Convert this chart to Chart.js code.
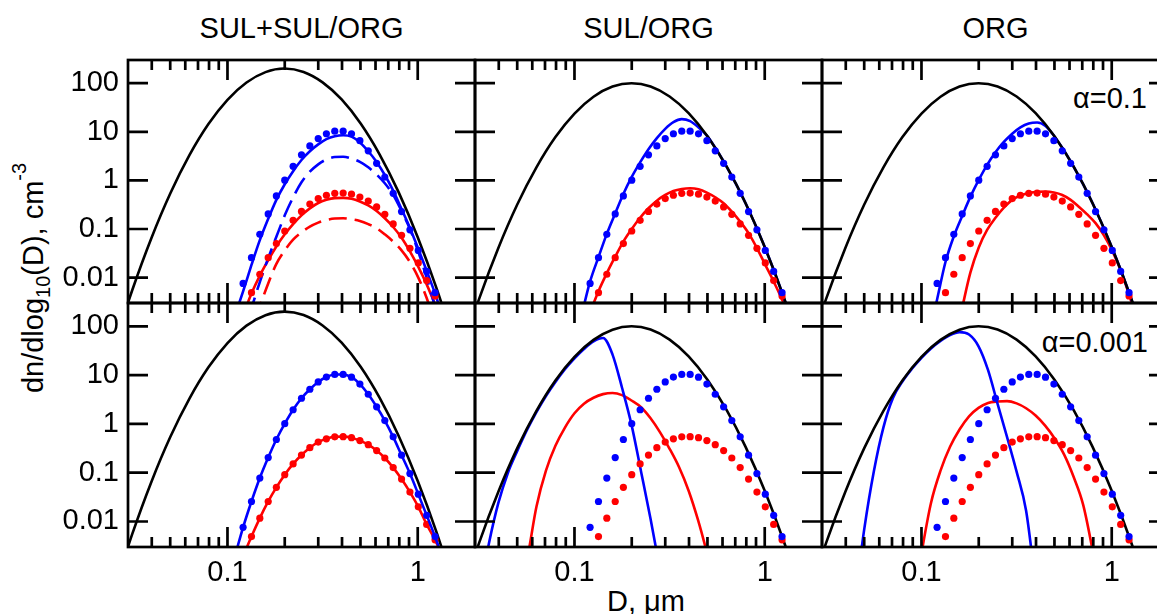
<!DOCTYPE html>
<html><head><meta charset="utf-8">
<script src="https://cdn.jsdelivr.net/npm/chart.js@4.4.1/dist/chart.umd.min.js"></script>
<style>
html,body{margin:0;padding:0;background:#fff;overflow:hidden;width:1157px;height:614px;}
body{position:relative;font-family:'Liberation Sans',Arial,Helvetica,sans-serif;color:#000;}
canvas{position:absolute;}
.t{position:absolute;font-size:29px;line-height:29px;white-space:nowrap;}
</style></head><body>
<div class="t" style="left:301.5px;top:13.8px;transform:translateX(-50%)">SUL+SUL/ORG</div>
<div class="t" style="left:648.5px;top:13.8px;transform:translateX(-50%)">SUL/ORG</div>
<div class="t" style="left:995.5px;top:13.8px;transform:translateX(-50%)">ORG</div>
<div class="t" style="right:10px;top:83.5px">α=0.1</div>
<div class="t" style="right:9px;top:327.5px">α=0.001</div>
<div class="t" style="left:646px;top:587px;transform:translateX(-50%)">D, μm</div>
<div class="t" style="left:35px;top:278px;transform:translate(-50%,-50%) rotate(-90deg)">dn/dlog<span style="font-size:20px;position:relative;top:7px">10</span>(D), cm<span style="font-size:20px;position:relative;top:-17px">-3</span></div>
<script>
// ---------- data ----------
const xTickVals = [0.1, 1];
const xTickLabels = ['0.1', '1'];
const xMinorVals = [0.04,0.05,0.06,0.07,0.08,0.09,0.2,0.3,0.4,0.5,0.6,0.7,0.8,0.9];
const yTickVals = [0.01, 0.1, 1, 10, 100];
const yTickLabels = ['0.01', '0.1', '1', '10', '100'];

// diameters of the bins shown as dots (µm)
const D_dots = [0.1092,0.1208,0.1337,0.1479,0.1637,0.1807,0.2000,0.2213,0.2449,0.2710,0.2999,0.3311,0.3664,0.4055,0.4487,0.4966,0.5495,0.6081,0.6714,0.7430,0.8222,0.9099,1.0069,1.1143,1.2331,1.3646];
const blueDots = [0.0019,0.0076,0.0257,0.0776,0.204,0.479,1.01,1.95,3.35,5.13,7.24,9.12,10.3,10.3,9.06,6.55,4.05,2.24,1.17,0.542,0.228,0.096,0.0363,0.0134,0.0049,0.0016];
const redDots = [0.00063,0.0019,0.0049,0.0117,0.0257,0.050,0.091,0.151,0.230,0.325,0.423,0.495,0.543,0.547,0.521,0.454,0.375,0.284,0.200,0.127,0.074,0.040,0.020,0.0087,0.0042,0.0018];

// total distribution (black)
const D_line = [0.0251,0.0316,0.0398,0.0501,0.0631,0.0794,0.1,0.1259,0.1585,0.1995,0.2512,0.3162,0.3981,0.5012,0.631,0.7943,1.0,1.2589,1.5849];
const blackSUL = [3.5e-4,0.00556,0.0647,0.543,3.30,14.4,45.4,103,169,200,170,104,46.3,14.8,3.40,0.566,0.0678,0.00585,3.6e-4];
const blackORG = [2.5e-4,0.00374,0.0407,0.322,1.85,7.77,23.7,52.6,85.1,100,85.6,53.3,24.2,7.97,1.91,0.334,0.0425,0.00394,2.65e-4];

// SUL+SUL/ORG, alpha=0.1 (on D_dots)
const p1Blue     = [0.0016,0.0052,0.0182,0.0589,0.162,0.398,0.832,1.55,2.63,3.98,5.50,7.08,8.13,8.51,7.94,6.03,3.98,2.40,1.29,0.617,0.257,0.105,0.0389,0.0138,0.0047,0.0014];
const p1BlueDash = [0.00016,0.00063,0.00234,0.0081,0.0251,0.0692,0.191,0.447,0.912,1.51,2.14,2.69,3.02,3.07,2.82,2.40,1.86,1.32,0.871,0.501,0.234,0.1,0.0339,0.01,0.00251,0.00063];
const p1Red      = [0.0005,0.00166,0.00468,0.011,0.0229,0.0437,0.0776,0.126,0.191,0.266,0.343,0.398,0.432,0.437,0.417,0.367,0.305,0.234,0.166,0.110,0.0661,0.0347,0.0166,0.00724,0.00282,0.00112];
const p1RedDash  = [0.00004,0.000178,0.000708,0.00251,0.00759,0.0191,0.0363,0.0603,0.0851,0.112,0.135,0.153,0.164,0.166,0.158,0.146,0.126,0.104,0.0776,0.055,0.0363,0.0209,0.01,0.0038,0.00112,0.000316];

// SUL/ORG and ORG, alpha=0.1 (on D_dots)
const p2TopBlue = [0.00174,0.00832,0.0263,0.0794,0.209,0.525,1.175,2.34,4.37,7.41,11.5,15.8,18.2,16.6,12.3,8.32,4.68,2.45,1.23,0.575,0.251,0.102,0.0398,0.0145,0.0049,0.00158];
const p2TopRed  = [0.00063,0.0019,0.00525,0.0123,0.0269,0.055,0.1,0.17,0.267,0.383,0.501,0.605,0.665,0.687,0.656,0.562,0.45,0.339,0.228,0.142,0.082,0.0404,0.0183,0.00832,0.00355,0.00141];
const p3TopBlue = [0.00063,0.00355,0.0209,0.0708,0.186,0.457,1.02,2.09,3.80,6.17,9.12,12.3,14.8,15.5,13.2,8.32,4.68,2.45,1.23,0.575,0.251,0.102,0.0398,0.0145,0.0049,0.00158];
const p3TopRed  = [null,null,6.3e-5,0.0004,0.0024,0.0126,0.0417,0.0955,0.17,0.275,0.398,0.49,0.55,0.582,0.586,0.562,0.501,0.398,0.288,0.2,0.132,0.0741,0.0355,0.0141,0.00447,0.00126];

// SUL/ORG and ORG, alpha=0.001
const D_fine = [0.0282,0.0316,0.0355,0.0398,0.0447,0.0501,0.0562,0.0631,0.0708,0.0794,0.0891,0.1,0.1122,0.1259,0.1413,0.1585,0.1778,0.1995,0.2239,0.2512,0.2818,0.3162,0.3548,0.3981,0.4467,0.5012,0.5623,0.631,0.7079,0.7943,0.8913];
const p2BotBlue = [null,0.00032,0.00355,0.024,0.1,0.282,0.741,1.74,3.72,7.24,13.2,22.1,34.3,49.0,57.5,26.3,5.5,0.955,0.105,0.0112,0.001,null,null,null,null,null,null,null,null,null,null];
const p2BotRed  = [null,null,null,null,null,0.00032,0.00158,0.02,0.11,0.355,0.84,1.65,2.59,3.43,4.07,4.29,3.89,3.01,2.19,1.30,0.67,0.309,0.129,0.0427,0.0105,0.002,0.00032,null,null,null,null];
const p3BotBlue = [null,null,null,null,0.00025,0.00724,0.107,0.851,3.39,7.41,13.5,22.6,35.1,50.1,66.1,75.9,67.6,38.9,12.6,2.57,0.537,0.105,0.0166,0.0005,null,null,null,null,null,null,null];
const p3BotRed  = [null,null,null,null,null,null,null,null,null,null,0.00016,0.00224,0.024,0.11,0.339,0.767,1.43,2.13,2.69,2.88,2.92,2.63,2.09,1.48,0.918,0.501,0.234,0.0813,0.0219,0.00251,0.0002];

// ---------- drawing ----------
const BLUE = '#0000ff', RED = '#ff0000', BLACK = '#000000';
const FONT = "'Liberation Sans', Arial, Helvetica, sans-serif";
const mk = (D, v) => D.map((d, i) => ({x: d, y: v[i]}));

const panels = [
  {col:0,row:0,black:blackSUL,dotsLine:false,lines:[[D_dots,p1Blue,BLUE,false],[D_dots,p1BlueDash,BLUE,true],[D_dots,p1Red,RED,false],[D_dots,p1RedDash,RED,true]]},
  {col:1,row:0,black:blackORG,dotsLine:false,lines:[[D_dots,p2TopBlue,BLUE,false],[D_dots,p2TopRed,RED,false]]},
  {col:2,row:0,black:blackORG,dotsLine:false,lines:[[D_dots,p3TopBlue,BLUE,false],[D_dots,p3TopRed,RED,false]]},
  {col:0,row:1,black:blackSUL,dotsLine:true,lines:[]},
  {col:1,row:1,black:blackORG,dotsLine:false,lines:[[D_fine,p2BotBlue,BLUE,false],[D_fine,p2BotRed,RED,false]]},
  {col:2,row:1,black:blackORG,dotsLine:false,lines:[[D_fine,p3BotBlue,BLUE,false],[D_fine,p3BotRed,RED,false]]}
];

const frameTicks = {
  id: 'frameTicks',
  afterDraw(chart) {
    const {ctx, chartArea: a} = chart;
    const x = chart.scales.x, y = chart.scales.y;
    ctx.save();
    ctx.strokeStyle = BLACK;
    ctx.lineWidth = 2.7;
    ctx.lineCap = 'butt';
    ctx.beginPath();
    xTickVals.forEach(v => { const p = x.getPixelForValue(v);
      ctx.moveTo(p, a.top); ctx.lineTo(p, a.top + 20); ctx.moveTo(p, a.bottom); ctx.lineTo(p, a.bottom - 20); });
    xMinorVals.forEach(v => { const p = x.getPixelForValue(v);
      ctx.moveTo(p, a.top); ctx.lineTo(p, a.top + 10); ctx.moveTo(p, a.bottom); ctx.lineTo(p, a.bottom - 10); });
    yTickVals.forEach(v => { const p = y.getPixelForValue(v);
      ctx.moveTo(a.left, p); ctx.lineTo(a.left + 20, p); ctx.moveTo(a.right, p); ctx.lineTo(a.right - 20, p); });
    ctx.stroke();
    ctx.strokeRect(a.left, a.top, a.right - a.left, a.bottom - a.top);
    ctx.restore();
  }
};

const COL_L = [128, 475, 822], PW = 347;
const ROW_T = [60, 303], ROW_H = [243, 244];
const PAD = 6, YW = 128, XH = 60;

panels.forEach(p => {
  const showY = p.col === 0, showX = p.row === 1;
  const padL = showY ? 0 : PAD;
  const yW = showY ? YW : 0;
  const xH = showX ? XH : 0;
  const padB = showX ? 0 : PAD;
  const w = yW + padL + PW + PAD;
  const h = PAD + ROW_H[p.row] + xH + padB;
  const cv = document.createElement('canvas');
  cv.width = w; cv.height = h;
  cv.style.left = (COL_L[p.col] - yW - padL) + 'px';
  cv.style.top = (ROW_T[p.row] - PAD) + 'px';
  cv.style.width = w + 'px'; cv.style.height = h + 'px';
  document.body.appendChild(cv);

  const ds = [];
  ds.push({data: mk(D_dots, blueDots), showLine: p.dotsLine, borderColor: BLUE, borderWidth: 2.6,
    pointRadius: 3.6, pointBackgroundColor: BLUE, pointBorderWidth: 0, cubicInterpolationMode: 'monotone', order: 0, clip: 1});
  ds.push({data: mk(D_dots, redDots), showLine: p.dotsLine, borderColor: RED, borderWidth: 2.6,
    pointRadius: 3.6, pointBackgroundColor: RED, pointBorderWidth: 0, cubicInterpolationMode: 'monotone', order: 0, clip: 1});
  ds.push({data: mk(D_line, p.black), showLine: true, borderColor: BLACK, borderWidth: 2.6, pointRadius: 0,
    cubicInterpolationMode: 'monotone', order: 1, clip: 1});
  p.lines.forEach(([D, v, c, dash], i) => {
    ds.push({data: mk(D, v), showLine: true, borderColor: c, borderWidth: 2.6, pointRadius: 0,
      borderDash: dash ? [18, 8] : [], cubicInterpolationMode: 'monotone', order: 2 + i, clip: 1});
  });

  new Chart(cv, {
    type: 'scatter',
    data: {datasets: ds},
    plugins: [frameTicks],
    options: {
      responsive: false, maintainAspectRatio: false, animation: false, devicePixelRatio: 1, events: [],
      layout: {autoPadding: false, padding: {left: padL, right: PAD, top: PAD, bottom: padB}},
      plugins: {legend: {display: false}, tooltip: {enabled: false}},
      scales: {
        x: {type: 'logarithmic', min: 0.03, max: 2, display: showX,
          afterFit: s => { if (showX) s.height = XH; s.paddingLeft = 0; s.paddingRight = 0; s.paddingTop = 0; s.paddingBottom = 0; },
          afterBuildTicks: s => { s.ticks = xTickVals.map(v => ({value: v})); },
          ticks: {callback: v => xTickLabels[xTickVals.indexOf(v)], font: {family: FONT, size: 29}, color: BLACK,
            padding: 9, maxRotation: 0, autoSkip: false},
          grid: {display: false, drawTicks: false}, border: {display: false}},
        y: {type: 'logarithmic', min: 0.003, max: 300, display: showY,
          afterFit: s => { if (showY) s.width = YW; s.paddingLeft = 0; s.paddingRight = 0; s.paddingTop = 0; s.paddingBottom = 0; },
          afterBuildTicks: s => { s.ticks = yTickVals.map(v => ({value: v})); },
          ticks: {callback: v => yTickLabels[yTickVals.indexOf(v)], font: {family: FONT, size: 29}, color: BLACK,
            padding: 9, autoSkip: false},
          grid: {display: false, drawTicks: false}, border: {display: false}}
      }
    }
  });
});
</script>
</body></html>
